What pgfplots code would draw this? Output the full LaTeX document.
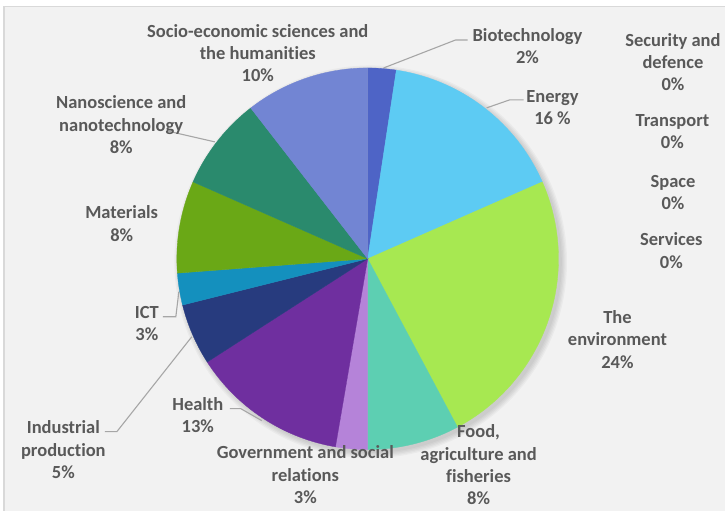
\documentclass[border=0pt]{standalone}
\usepackage{fontspec}
\setmainfont{Carlito}[Ligatures=NoCommon]
\usepackage{pgfplots}
\usepackage{pgfplotstable}
\pgfplotsset{compat=1.18}

\definecolor{pc0}{HTML}{4E64C6}
\definecolor{pc1}{HTML}{5DCBF3}
\definecolor{pc2}{HTML}{A7E851}
\definecolor{pc3}{HTML}{5DCFB2}
\definecolor{pc4}{HTML}{B583D9}
\definecolor{pc5}{HTML}{6F2F9F}
\definecolor{pc6}{HTML}{273B7E}
\definecolor{pc7}{HTML}{1490BE}
\definecolor{pc8}{HTML}{6AA816}
\definecolor{pc9}{HTML}{2A8A6D}
\definecolor{pc10}{HTML}{7285D3}
\definecolor{txt}{HTML}{595959}
\definecolor{bgc}{HTML}{F2F2F2}
\definecolor{bordc}{HTML}{D9D9D9}
\definecolor{leadc}{HTML}{A6A6A6}

\tikzset{
  lbl/.style={font=\fontsize{18.5bp}{22.3bp}\selectfont\bfseries, text=txt, align=center, inner sep=0pt},
  lead/.style={draw=leadc, line width=1.1bp},
}

% share of each field, in %, clockwise from 12 o'clock
\pgfplotstableread[col sep=comma]{
field,value
Biotechnology,2.4
Energy,16.0
The environment,23.8
Food agriculture and fisheries,7.8
Government and social relations,2.7
Health,13.2
Industrial production,5.2
ICT,2.7
Materials,7.8
Nanoscience and nanotechnology,7.9
Socio-economic sciences and the humanities,10.5
Security and defence,0
Transport,0
Space,0
Services,0
}\piedata

\begin{document}
\begin{tikzpicture}
\begin{axis}[
    width=726bp, height=511bp, scale only axis,
    xmin=0, xmax=726, ymin=0, ymax=511,
    y dir=reverse,
    hide axis, clip=false,
]
% chart area
\fill[white] (0,0) rectangle (726,511);
\fill[bgc] (4,6.5) rectangle (726,511);
\draw[bordc, line width=1.3bp] (4,511) -- (4,6.5) -- (726,6.5);
% soft shadow
\pgfplotsinvokeforeach{1,...,5}{
  \fill[black, opacity=0.03] (371,262) circle[radius={190+1.3*#1}];
}

\xdef\cum{0}
\pgfplotsforeachungrouped \i in {0,...,10}{%
  \pgfplotstablegetelem{\i}{value}\of\piedata
  \let\v\pgfplotsretval
  \pgfmathsetmacro\angA{3.6*\cum}%
  \pgfmathsetmacro\angB{3.6*(\cum+\v)}%
  \pgfmathsetmacro\newcum{\cum+\v}%
  \xdef\cum{\newcum}%
  \edef\temp{\noexpand\addplot[draw=pc\i, line width=0.3pt, fill=pc\i, domain=\angA:\angB, samples=60]
    ({368+191*sin(x)},{259-191*cos(x)}) -- (368,259) -- cycle;}%
  \temp
}

% leader lines
\draw[lead] (384,68) -- (456,40) -- (468,40);
\draw[lead] (487,108) -- (510,100) -- (524,100);
\draw[lead] (167,131) -- (215,142);
\draw[lead] (163,317) -- (176,317) -- (179,292);
\draw[lead] (105,432) -- (117,432) -- (192,337);
\draw[lead] (230,409) -- (241,409) -- (262,421);

% labels
\node[lbl] at (258,53.2) {Socio-economic sciences and\\the humanities\\10\%};
\node[lbl] at (528,46) {Biotechnology\\2\%};
\node[lbl] at (673.6,62.3) {Security and\\defence\\0\%};
\node[lbl] at (553,107.5) {Energy\\16 \%};
\node[lbl] at (673,131.7) {Transport\\0\%};
\node[lbl] at (673.6,192.5) {Space\\0\%};
\node[lbl] at (672,250.8) {Services\\0\%};
\node[lbl] at (121.3,124.8) {Nanoscience and\\nanotechnology\\8\%};
\node[lbl] at (121.8,223.8) {Materials\\8\%};
\node[lbl] at (147,324) {ICT\\3\%};
\node[lbl] at (63.4,450.2) {Industrial\\production\\5\%};
\node[lbl] at (198,415.5) {Health\\13\%};
\node[lbl] at (305.6,475.2) {Government and social\\relations\\3\%};
\node[lbl] at (618,339.7) {The\\environment\\24\%};
\node[lbl] at (479,465.3) {Food,\\agriculture and\\fisheries\\8\%};
\end{axis}
\end{tikzpicture}
\end{document}
